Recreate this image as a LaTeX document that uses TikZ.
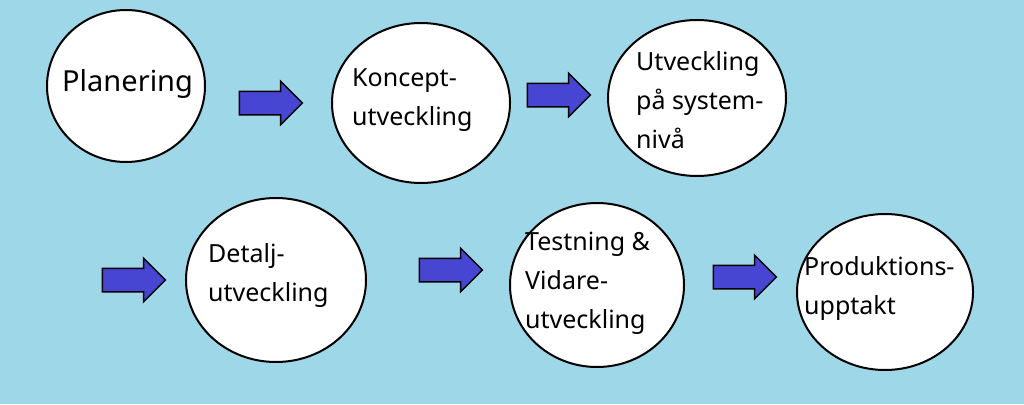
\documentclass[tikz,border=0pt]{standalone}
\usepackage{fontspec}
\setmainfont{Noto Sans}
\usetikzlibrary{shapes.arrows}
\definecolor{bg}{HTML}{9DD7E8}
\definecolor{arr}{HTML}{4646D2}
\tikzset{
  barr/.style={single arrow,draw=black,line width=1.5pt,fill=arr,inner xsep=0pt,inner ysep=11pt,text height=0pt,text depth=0pt,minimum height=63pt,minimum width=42pt,single arrow head extend=10pt},
  lbl/.style={anchor=west,align=left,font=\fontsize{25}{39}\selectfont,inner sep=0pt}
}
\begin{document}
\begin{tikzpicture}[x=1pt,y=-1pt]
\fill[bg] (0,0) rectangle (1024,404);
\useasboundingbox (0,0) rectangle (1024,404);
\foreach \n/\cx/\cy/\rx/\ry in {c1/126/86/79/76,c2/421/103/89/80,c3/697/98/89/78,c4/276/280/90/82,c5/597/285/87/82,c6/885/292/88/78}{
  \draw[black,line width=2pt,fill=white] (\cx,\cy) ellipse [x radius=\rx, y radius=\ry];
  \coordinate (\n) at (\cx,\cy);
}
\node[barr] (a1) at (265,103) {};
\node[barr] (a2) at (553,95) {};
\node[barr] (a3) at (128,280) {};
\node[barr] (a4) at (445,270) {};
\node[barr] (a5) at (739,277) {};
\node[lbl,font=\fontsize{29}{34}\selectfont] (t1) at (62,84) {Planering};
\node[lbl] (t2) at (352,100) {Koncept-\\utveckling};
\node[lbl] (t3) at (636,100) {Utveckling\\på system-\\nivå};
\node[lbl] (t4) at (208,275) {Detalj-\\utveckling};
\node[lbl] (t5) at (525,283) {Testning \&\\Vidare-\\utveckling};
\node[lbl] (t6) at (804,288) {Produktions-\\upptakt};
\end{tikzpicture}
\end{document}
